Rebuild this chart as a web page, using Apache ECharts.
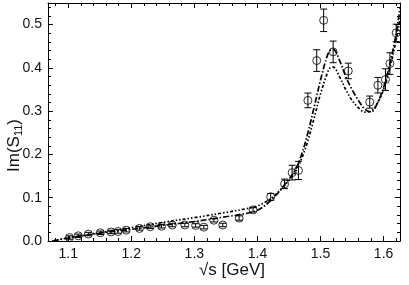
<!DOCTYPE html>
<html>
<head>
<meta charset="utf-8">
<script src="https://cdn.jsdelivr.net/npm/echarts@6/dist/echarts.min.js"></script>
<style>html,body{margin:0;padding:0;background:#fff}#c{width:409px;height:285px}</style>
</head>
<body>
<div id="c"></div>
<script>
// measured data points: sqrt(s) [GeV], Im(S11), error
var dataX   = [1.102,1.116,1.132,1.151,1.168,1.179,1.192,1.213,1.230,1.248,1.265,1.285,1.302,1.315,1.331,1.345,1.371,1.393,1.421,1.443,1.455,1.465,1.480,1.494,1.505,1.520,1.544,1.578,1.591,1.603,1.610,1.620];
var dataY   = [0.008,0.012,0.016,0.019,0.021,0.022,0.025,0.029,0.033,0.034,0.037,0.037,0.036,0.032,0.048,0.037,0.053,0.072,0.102,0.132,0.158,0.163,0.325,0.417,0.510,0.437,0.393,0.321,0.360,0.373,0.410,0.481];
var dataErr = [0.004,0.004,0.004,0.004,0.004,0.004,0.004,0.004,0.004,0.004,0.004,0.004,0.004,0.004,0.004,0.004,0.005,0.005,0.008,0.011,0.017,0.021,0.017,0.025,0.026,0.025,0.018,0.014,0.018,0.025,0.025,0.020];

// model curves
var curveX = [1.075,1.10,1.15,1.20,1.25,1.30,1.35,1.38,1.40,1.42,1.44,1.46,1.47,1.48,1.49,1.50,1.51,1.515,1.52,1.53,1.54,1.55,1.56,1.57,1.58,1.59,1.60,1.61,1.62,1.626];
var curveA = [0.000,0.007,0.018,0.027,0.036,0.045,0.056,0.063,0.071,0.092,0.124,0.165,0.200,0.250,0.310,0.372,0.425,0.440,0.443,0.418,0.380,0.350,0.325,0.305,0.298,0.318,0.355,0.410,0.480,0.540];
var curveB = [0.000,0.007,0.019,0.031,0.043,0.054,0.066,0.074,0.081,0.097,0.124,0.160,0.190,0.232,0.285,0.340,0.385,0.400,0.402,0.380,0.350,0.325,0.308,0.298,0.300,0.318,0.350,0.400,0.465,0.515];

// axis ticks
var xMajor = [1.1,1.2,1.3,1.4,1.5,1.6];
var yMajor = [0.0,0.1,0.2,0.3,0.4,0.5];
var xMinor = [1.08,1.12,1.14,1.16,1.18,1.22,1.24,1.26,1.28,1.32,1.34,1.36,1.38,1.42,1.44,1.46,1.48,1.52,1.54,1.56,1.58,1.62];
var yMinor = [0.02,0.04,0.06,0.08,0.12,0.14,0.16,0.18,0.22,0.24,0.26,0.28,0.32,0.34,0.36,0.38,0.42,0.44,0.46,0.48,0.52,0.54];

var XMIN = 1.068, XMAX = 1.626, YMIN = 0, YMAX = 0.55;
var FONT = 'Liberation Sans, Arial, sans-serif';

function pts(xs, ys){ return xs.map(function(x,i){ return [x, ys[i]]; }); }

function mkAxis(pos, min, max, major, minor, isMajor, labels){
  var vals = isMajor ? major : minor;
  return {
    type:'value', position:pos, min:min, max:max,
    axisLine:{show:isMajor, onZero:false, lineStyle:{color:'#000', width:1}},
    axisTick:{show:true, inside:true, length:isMajor?5:3, customValues:vals, lineStyle:{color:'#000', width:1}},
    axisLabel:{show:!!labels, customValues:major, margin:6, fontSize:14, fontFamily:FONT, color:'#111',
      formatter:function(v){ return (+v).toFixed(1); }},
    splitLine:{show:false}
  };
}

var chart = echarts.init(document.getElementById('c'), null, {renderer:'canvas'});
chart.setOption({
  animation:false,
  backgroundColor:'#fff',
  grid:{left:48, right:9, top:3, bottom:44, containLabel:false},
  xAxis:[
    mkAxis('bottom', XMIN, XMAX, xMajor, xMinor, true, true),
    mkAxis('bottom', XMIN, XMAX, xMajor, xMinor, false, false),
    mkAxis('top', XMIN, XMAX, xMajor, xMinor, true, false),
    mkAxis('top', XMIN, XMAX, xMajor, xMinor, false, false)
  ],
  yAxis:[
    mkAxis('left', YMIN, YMAX, yMajor, yMinor, true, true),
    mkAxis('left', YMIN, YMAX, yMajor, yMinor, false, false),
    mkAxis('right', YMIN, YMAX, yMajor, yMinor, true, false),
    mkAxis('right', YMIN, YMAX, yMajor, yMinor, false, false)
  ],
  graphic:[
    {type:'text', left:199, top:262, style:{text:'\u221As [GeV]', fontSize:17, fontFamily:FONT, fill:'#111'}},
    {type:'text', x:5, y:172, rotation:Math.PI/2,
     style:{text:'Im(S{sub|11})', fontSize:17, fontFamily:FONT, fill:'#111',
       rich:{sub:{fontSize:11, fontFamily:FONT, fill:'#111', padding:[8,0,0,0]}}}}
  ],
  series:[
    {type:'line', xAxisIndex:0, yAxisIndex:0, data:pts(curveX, curveA), smooth:0.35, symbol:'none',
     lineStyle:{color:'#000', width:1.7, type:[6,2,1.5,2]}, clip:true, z:3},
    {type:'line', xAxisIndex:0, yAxisIndex:0, data:pts(curveX, curveB), smooth:0.35, symbol:'none',
     lineStyle:{color:'#000', width:1.7, type:[3,2,1.5,2,1.5,2]}, clip:true, z:3},
    {type:'scatter', xAxisIndex:0, yAxisIndex:0, data:pts(dataX, dataY), symbol:'circle', symbolSize:8,
     itemStyle:{color:'rgba(255,255,255,0)', borderColor:'#000', borderWidth:1}, z:4},
    {type:'custom', xAxisIndex:0, yAxisIndex:0, z:5,
     data:dataX.map(function(x,i){ return [x, dataY[i]-dataErr[i], dataY[i]+dataErr[i]]; }),
     renderItem:function(params, api){
       var lo = api.coord([api.value(0), api.value(1)]);
       var hi = api.coord([api.value(0), api.value(2)]);
       var w = 3.5;
       var st = {stroke:'#000', lineWidth:1};
       return {type:'group', children:[
         {type:'line', shape:{x1:lo[0], y1:lo[1], x2:hi[0], y2:hi[1]}, style:st},
         {type:'line', shape:{x1:lo[0]-w, y1:lo[1], x2:lo[0]+w, y2:lo[1]}, style:st},
         {type:'line', shape:{x1:hi[0]-w, y1:hi[1], x2:hi[0]+w, y2:hi[1]}, style:st}
       ]};
     }}
  ]
});
</script>
</body>
</html>
